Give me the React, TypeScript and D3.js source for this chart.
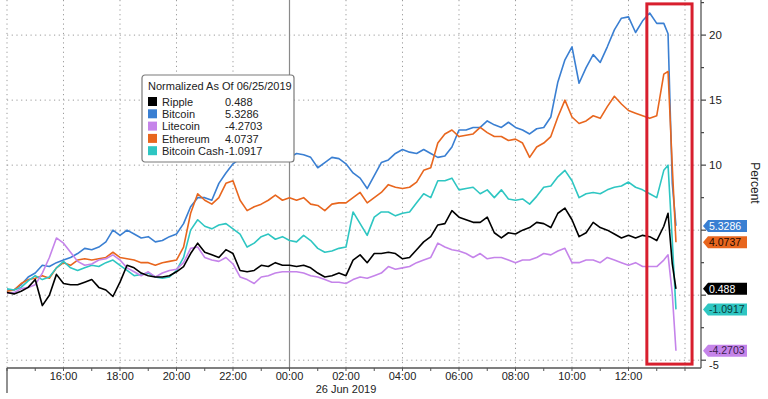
import React from "react";
import * as d3 from "d3";

// hours after 25 Jun 2019 14:00, 15 min steps, then the final sell-off
const hours = [...d3.range(0, 23.5, 0.25), 23.4, 23.55, 23.68];

const ripple = [
  0.2, 0.1, 0.3, 0.6, 1.2, -0.8, 0.0, 1.6, 0.9, 0.8,
  0.8, 1.0, 1.2, 0.6, 0.4, -0.1, 1.0, 2.3, 2.1, 1.7,
  1.5, 1.4, 1.4, 1.5, 1.8, 2.2, 3.2, 4.0, 3.3, 3.1,
  2.9, 3.5, 3.2, 1.9, 1.8, 1.9, 2.3, 2.2, 2.5, 2.3,
  2.3, 2.2, 2.3, 2.1, 1.7, 1.4, 1.5, 1.7, 1.5, 2.7,
  3.1, 2.5, 3.2, 3.2, 3.3, 3.2, 2.8, 2.9, 3.5, 4.1,
  4.5, 5.4, 5.5, 6.5, 6.0, 5.8, 5.6, 5.6, 6.0, 4.8,
  4.4, 4.8, 4.7, 5.0, 5.2, 5.6, 5.5, 5.2, 6.3, 6.7,
  5.8, 4.5, 4.8, 5.6, 5.2, 5.0, 4.7, 4.4, 4.6, 4.4,
  4.6, 4.5, 4.2, 5.3, 6.3, 2.4, 0.488,
];
const bitcoin = [
  0.4, 0.4, 0.8, 1.4, 1.7, 2.3, 2.2, 2.5, 2.7, 2.9,
  3.2, 3.6, 3.5, 3.7, 4.1, 5.0, 4.6, 5.0, 4.7, 4.4,
  4.5, 4.1, 4.2, 4.5, 4.7, 5.5, 6.8, 7.5, 7.5, 7.3,
  8.6, 9.4, 10.1, 10.5, 11.0, 10.6, 11.2, 10.8, 11.0, 10.7,
  10.6, 10.9, 10.8, 10.6, 9.8, 10.2, 10.6, 10.5, 10.1, 9.4,
  9.0, 8.2, 9.2, 10.2, 10.4, 10.9, 11.2, 11.0, 10.9, 11.2,
  10.9, 10.6, 10.7, 11.4, 12.7, 12.7, 12.9, 12.9, 13.4, 13.1,
  12.9, 13.3, 12.9, 12.7, 12.4, 12.8, 12.9, 13.7, 16.4, 18.1,
  19.1, 16.3, 17.5, 18.5, 17.9, 19.1, 20.4, 21.3, 21.4, 20.2,
  21.1, 21.7, 20.9, 20.9, 20.1, 8.6, 5.3286,
];
const litecoin = [
  0.15, 0.2, 0.5, 0.6, 0.8, 1.7, 2.9, 4.4, 4.0, 3.3,
  2.6, 2.3, 2.4, 2.7, 2.8, 3.1, 2.7, 2.1, 1.8, 1.5,
  1.8, 1.4, 1.7, 1.9, 2.0, 2.5, 3.6, 3.7, 2.9, 2.7,
  2.6, 2.9, 2.4, 1.4, 1.2, 0.9, 1.4, 1.5, 1.7, 1.8,
  1.8, 1.8, 1.7, 1.5, 1.4, 1.2, 1.0, 1.0, 0.9, 1.2,
  1.4, 1.3, 1.5, 1.7, 2.2, 2.0, 2.1, 2.2, 2.5, 2.7,
  2.9, 4.0, 3.7, 3.5, 3.4, 3.2, 2.9, 3.2, 2.8, 2.9,
  2.9, 2.7, 2.5, 2.7, 2.7, 2.9, 3.2, 3.1, 3.4, 3.6,
  2.5, 2.5, 2.7, 2.7, 2.5, 2.9, 2.7, 2.5, 2.3, 2.5,
  2.2, 2.2, 2.2, 2.7, 3.1, 0.1, -4.2703,
];
const ethereum = [
  0.3, 0.4, 0.9, 1.2, 1.3, 1.5, 1.3, 2.1, 2.5, 2.3,
  2.7, 2.8, 2.7, 2.8, 2.9, 3.3, 2.9, 2.8, 2.7, 2.5,
  2.5, 2.3, 2.5, 2.6, 2.7, 3.7, 6.3, 7.8, 7.3, 7.0,
  7.5, 8.6, 8.8, 7.3, 6.5, 6.8, 7.0, 7.3, 7.7, 7.3,
  7.5, 7.3, 7.5, 7.0, 6.9, 6.5, 7.0, 7.1, 7.1, 7.5,
  7.9, 7.1, 7.5, 7.9, 8.5, 8.3, 8.2, 8.3, 8.7, 9.6,
  9.8, 11.7, 12.4, 12.7, 12.2, 12.3, 12.4, 12.9, 12.5, 12.2,
  12.2, 11.9, 12.0, 11.7, 10.6, 11.4, 11.7, 12.2, 13.7, 15.0,
  13.7, 13.2, 13.4, 13.8, 13.6, 14.5, 15.3, 14.7, 14.2, 14.0,
  13.8, 13.6, 13.8, 17.0, 17.2, 9.9, 4.0737,
];
const bitcoinCash = [
  0.5, 0.4, 0.6, 1.1, 1.5, 1.2, 1.4, 2.1, 2.6, 2.1,
  1.9, 2.1, 2.3, 2.2, 2.5, 2.7, 2.3, 1.9, 1.5, 1.6,
  1.7, 1.4, 1.3, 1.4, 1.9, 2.9, 5.0, 5.8, 5.3, 5.1,
  5.4, 5.5, 5.1, 4.7, 3.7, 4.0, 4.5, 4.7, 4.3, 4.5,
  4.2, 4.1, 4.6, 4.2, 3.6, 3.3, 3.4, 3.6, 3.7, 6.4,
  5.5, 4.6, 6.0, 6.4, 6.4, 6.1, 6.3, 6.4, 7.1, 7.8,
  7.5, 8.8, 8.8, 9.0, 8.1, 8.2, 8.3, 7.8, 8.1, 7.5,
  8.1, 7.4, 7.3, 7.4, 7.0, 7.6, 8.3, 8.4, 9.1, 9.6,
  8.8, 7.5, 7.8, 7.9, 7.8, 8.1, 8.3, 8.4, 8.7, 8.3,
  8.1, 7.8, 7.5, 9.6, 10.0, 4.2, -1.0917,
];

const seriesNames = ["Ripple", "Bitcoin", "Litecoin", "Ethereum", "Bitcoin Cash"];
const lastValues = ["0.488", "5.3286", "-4.2703", "4.0737", "-1.0917"];
const colors = ["#000000", "#3a7fd2", "#c584ea", "#e8661e", "#2ec6c2"];
const tagText = ["#ffffff", "#ffffff", "#3a1c4e", "#1a0a00", "#0b3b3a"];
const yTicks = [-5, 0, 5, 10, 15, 20];

const start = new Date(2019, 5, 25, 14, 0);
const end = new Date(2019, 5, 26, 14, 34);
const lastLabel = new Date(2019, 5, 26, 12, 0);
const at = (h: number) => new Date(start.getTime() + h * 3600e3);
// highlighted window (red box)
const boxFrom = at(22.65);
const boxTo = at(24.25);

const FONT = "'Liberation Sans', Arial, sans-serif";

export default function App() {
  const left = 7, right = 701, top = 0, bottom = 368;
  const x = d3.scaleTime().domain([start, end]).range([left, right]);
  const y = d3.scaleLinear().domain([-5.6, 22.7]).range([bottom, top]);

  const all = [ripple, bitcoin, litecoin, ethereum, bitcoinCash];
  const line = d3
    .line<number>()
    .x((_, i) => x(at(hours[i])))
    .y((d) => y(d));

  const majors = d3.timeHour.every(2)!.range(start, end);
  const minors = d3.timeHour.every(1)!.range(start, end);
  const midnight = new Date(2019, 5, 26, 0, 0);
  const fmt = d3.timeFormat("%H:%M");
  const minorY = d3.range(-5, 22.6, 2.5);

  // tick labels that sit under a value tag are hidden, as on the terminal
  const tagYs = all.map((s) => y(s[s.length - 1]));
  const hidden = (t: number) => tagYs.some((ty) => Math.abs(ty - y(t)) < 8);

  // draw order: bottom first
  const order = [1, 3, 4, 2, 0];

  return (
    <svg
      width={768}
      height={399}
      style={{ position: "absolute", left: 0, top: 0, background: "#fff" }}
      fontFamily={FONT}
    >
      {/* grid */}
      {yTicks.map((t) => (
        <line key={"gy" + t} x1={left} x2={right} y1={y(t)} y2={y(t)}
          stroke="#9a9a9a" strokeDasharray="1.2 3.5" />
      ))}
      {majors.map((d) =>
        +d === +midnight ? null : (
          <line key={"gx" + +d} x1={x(d)} x2={x(d)} y1={top} y2={bottom}
            stroke="#9a9a9a" strokeDasharray="1.2 3.5" />
        )
      )}
      <line x1={x(midnight)} x2={x(midnight)} y1={top} y2={bottom} stroke="#8a8a8a" strokeWidth={1.2} />

      {/* series */}
      {order.map((k) => (
        <path key={seriesNames[k]} d={line(all[k]) || ""} fill="none"
          stroke={colors[k]} strokeWidth={1.6} strokeLinejoin="round" />
      ))}

      {/* red box */}
      <rect x={x(boxFrom)} y={y(22.4)} width={x(boxTo) - x(boxFrom)} height={y(-5.3) - y(22.4)}
        fill="none" stroke="#d81f2e" strokeWidth={3} />

      {/* axes */}
      <line x1={left} x2={right} y1={bottom} y2={bottom} stroke="#555" strokeWidth={1.3} />
      <line x1={right} x2={right} y1={top} y2={bottom} stroke="#555" strokeWidth={1.3} />
      <line x1={left} x2={left} y1={bottom} y2={393} stroke="#555" strokeWidth={1.3} />
      {minors.map((d) => (
        <line key={"mx" + +d} x1={x(d)} x2={x(d)} y1={bottom} y2={bottom + 3} stroke="#555" />
      ))}
      {majors.filter((d) => +d !== +start && +d <= +lastLabel).map((d) => (
        <text key={"lx" + +d} x={x(d)} y={380} textAnchor="middle" fontSize={11} fill="#222">
          {fmt(d)}
        </text>
      ))}
      <text x={x(at(12))} y={393} textAnchor="middle" fontSize={11} fill="#222">26 Jun 2019</text>

      {minorY.map((t) => (
        <line key={"my" + t} x1={right} x2={right + (t % 5 === 0 ? 5 : 3)} y1={y(t)} y2={y(t)} stroke="#444" strokeWidth={1.2} />
      ))}
      {yTicks.map((t) => {
        if (t === -5) {
          return (
            <text key={"ly" + t} x={right + 8} y={y(t) + 3} dy="0.5em" fontSize={11} fill="#222">{t}</text>
          );
        }
        return hidden(t) ? null : (
          <text key={"ly" + t} x={right + 8} y={y(t)} dy="0.35em" fontSize={11.5} fill="#222">{t}</text>
        );
      })}
      <text transform={`translate(751,183) rotate(90)`} textAnchor="middle" fontSize={12} fill="#222">Percent</text>

      {/* last value tags */}
      {all.map((s, k) => {
        const yc = tagYs[k];
        const p = `${right + 2},${yc} ${right + 7},${yc - 6} ${right + 46},${yc - 6} ${right + 46},${yc + 6} ${right + 7},${yc + 6}`;
        return (
          <g key={"tag" + k}>
            <polygon points={p} fill={colors[k]} />
            <text x={right + 8} y={yc} dy="0.36em" fontSize={10.5} fill={tagText[k]}>{lastValues[k]}</text>
          </g>
        );
      })}

      {/* legend */}
      <g transform="translate(142,75)">
        <rect x={0} y={0} width={152} height={87} rx={3} fill="#fff" stroke="#7a7a7a" strokeWidth={1.2} />
        <text x={6} y={15} fontSize={11} fill="#222">Normalized As Of 06/25/2019</text>
        {seriesNames.map((n, k) => (
          <g key={"lg" + n} transform={`translate(0,${27 + k * 12.3})`}>
            <rect x={6} y={-5} width={9} height={9} fill={colors[k]} />
            <text x={20} y={0} dy="0.35em" fontSize={11} fill="#222">{n}</text>
            <text x={83} y={0} dy="0.35em" fontSize={11} fill="#222">{lastValues[k]}</text>
          </g>
        ))}
      </g>
    </svg>
  );
}
